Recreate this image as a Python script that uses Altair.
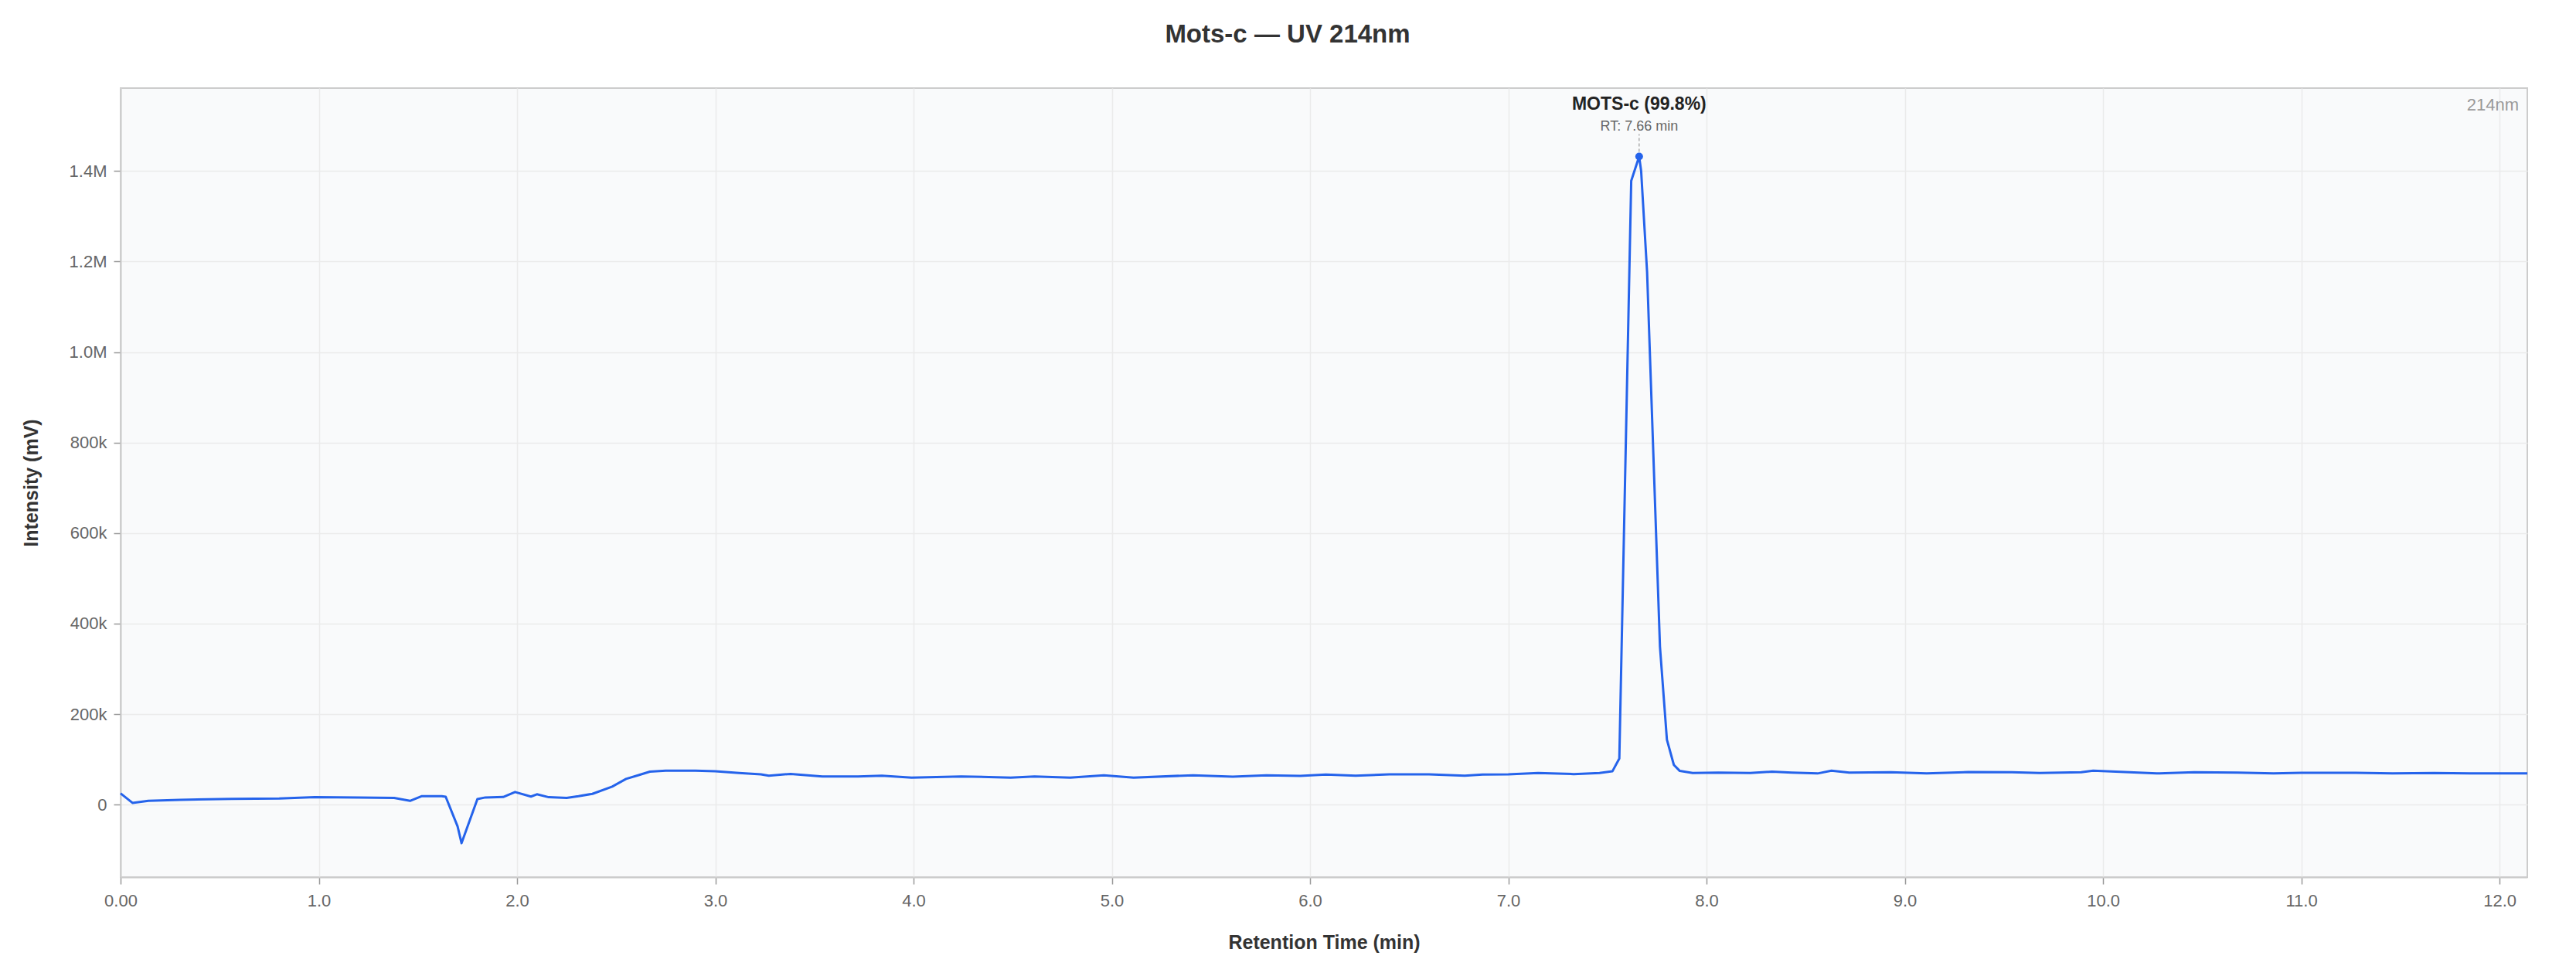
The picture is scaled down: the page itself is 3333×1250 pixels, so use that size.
import altair as alt
import pandas as pd

# Retention time (min) and intensity (mV)
rt = [0.00, 0.06, 0.14, 0.30, 0.56, 0.80, 0.98, 1.20, 1.38, 1.46, 1.52, 1.62, 1.64, 1.70, 1.72,
      1.80, 1.84, 1.93, 1.99, 2.07, 2.10, 2.16, 2.25, 2.31, 2.38, 2.48, 2.55, 2.61, 2.67, 2.75,
      2.90, 3.00, 3.12, 3.23, 3.27, 3.38, 3.54, 3.72, 3.84, 3.99, 4.24, 4.49, 4.61, 4.79, 4.96,
      5.11, 5.41, 5.61, 5.78, 5.95, 6.08, 6.23, 6.40, 6.60, 6.78, 6.87, 7.00, 7.15, 7.33, 7.46,
      7.525, 7.56, 7.62, 7.66, 7.67, 7.70, 7.765, 7.80, 7.835, 7.865, 7.93, 8.06, 8.22, 8.33,
      8.43, 8.56, 8.63, 8.72, 8.93, 9.11, 9.32, 9.54, 9.68, 9.89, 9.95, 10.11, 10.27, 10.46,
      10.68, 10.86, 11.00, 11.25, 11.46, 11.67, 11.85, 12.14]
intensity = [25000, 4000, 8500, 10800, 13000, 13600, 16500, 16000, 15000, 8500, 19000, 19000, 17500, -48000, -85000,
             12500, 16000, 17000, 28000, 18000, 23000, 16500, 15000, 18800, 24000, 40000, 57000, 65000, 73000, 75000,
             75000, 74000, 70000, 67000, 64000, 68000, 62500, 62500, 64000, 59700, 62500, 60000, 62500, 60000, 64800,
             60000, 65000, 62000, 65000, 63600, 66500, 64000, 67000, 67000, 64000, 66500, 67000, 70000, 67600, 70000,
             73700, 102000, 1378000, 1432000, 1400000, 1177000, 349000, 143500, 88000, 74600, 70000, 71000, 70000, 73000,
             71000, 69000, 75000, 71000, 71600, 69000, 72000, 71600, 70000, 71600, 75000, 72000, 69000, 71600,
             71000, 69000, 70500, 70500, 69000, 70000, 69000, 69000]

peak_names = ["MOTS-c (99.8%)"]
peak_rt = [7.66]
peak_height = [1432000]
peak_rt_labels = ["RT: 7.66 min"]

x_ticks = [0, 1, 2, 3, 4, 5, 6, 7, 8, 9, 10, 11, 12]
y_ticks = [0, 200000, 400000, 600000, 800000, 1000000, 1200000, 1400000]

W, H = 3114, 1021
FONT = "Liberation Sans"
LINE = "#2563eb"

trace = pd.DataFrame({"rt": rt, "intensity": intensity})
peaks = pd.DataFrame({"name": peak_names, "rt": peak_rt, "h": peak_height, "rtlabel": peak_rt_labels})

xscale = alt.Scale(domain=[0, 12.14], nice=False, zero=False)
yscale = alt.Scale(domain=[-160000, 1583000], nice=False, zero=False)

x_enc = alt.X("rt:Q", scale=xscale,
              axis=alt.Axis(title="Retention Time (min)", values=x_ticks, labelFlush=False,
                            labelExpr="datum.value == 0 ? '0.00' : format(datum.value, '.1f')",
                            titleY=84, titleBaseline="middle"))
y_enc = alt.Y("intensity:Q", scale=yscale,
              axis=alt.Axis(title="Intensity (mV)", values=y_ticks, labelFlush=False,
                            labelExpr="datum.value >= 1000000 ? format(datum.value / 1000000, '.1f') + 'M' : (datum.value == 0 ? '0' : format(datum.value / 1000, 'd') + 'k')",
                            titleX=-116, titleY=H / 2, titleBaseline="middle", titleAngle=270))

line = alt.Chart(trace).mark_line(color=LINE, strokeWidth=3, strokeJoin="round").encode(x=x_enc, y=y_enc)

px = alt.X("rt:Q", scale=xscale)
py = alt.Y("h:Q", scale=yscale)

rule = alt.Chart(peaks).mark_rule(color="#999999", strokeWidth=1.2, strokeDash=[4, 3],
                                  yOffset=-6, y2Offset=-29).encode(x=px, y=py, y2="h:Q")
point = alt.Chart(peaks).mark_point(filled=True, color=LINE, size=100, opacity=1).encode(x=px, y=py)
name_text = alt.Chart(peaks).mark_text(font=FONT, fontSize=23, fontWeight="bold", color="#222222",
                                       baseline="middle", align="center", dy=-67).encode(x=px, y=py, text="name:N")
rt_text = alt.Chart(peaks).mark_text(font=FONT, fontSize=18, color="#666666",
                                     baseline="middle", align="center", dy=-38).encode(x=px, y=py, text="rtlabel:N")
wl_text = alt.Chart(pd.DataFrame({"t": ["214nm"]})).mark_text(
    font=FONT, fontSize=22, color="#999999", align="right", baseline="middle"
).encode(x=alt.value(W - 11), y=alt.value(22), text="t:N")

chart = alt.layer(line, rule, point, name_text, rt_text, wl_text).properties(
    width=W, height=H,
    autosize=alt.AutoSizeParams(type="none"),
    padding={"left": 148, "top": 106, "right": 50, "bottom": 100},
    title=alt.TitleParams("Mots-c — UV 214nm", font=FONT, fontSize=33, fontWeight="bold",
                          color="#333333", anchor="middle", frame="group", dx=-47, offset=52),
).configure_view(
    fill="#f9fafb", stroke="#cccccc", strokeWidth=2
).configure_axis(
    labelFont=FONT, labelFontSize=22, labelColor="#666666",
    titleFont=FONT, titleFontSize=25, titleFontWeight="bold", titleColor="#333333",
    gridColor="#ebebeb", gridWidth=1.5, domainColor="#cccccc", domainWidth=2,
    tickColor="#999999", tickWidth=1.5, tickSize=9,
).configure_axisX(labelPadding=11).configure_axisY(labelPadding=9)

chart.save("out.html", embed_options={"renderer": "svg", "actions": False})
